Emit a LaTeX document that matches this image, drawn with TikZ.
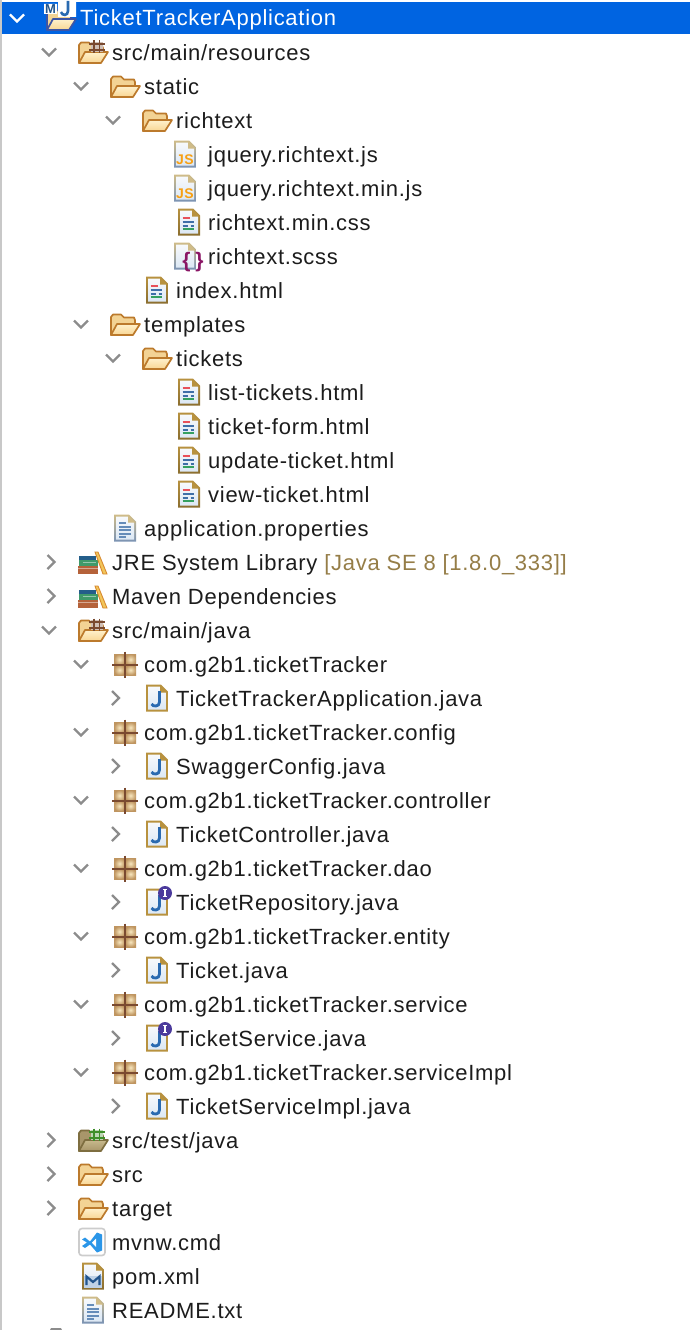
\documentclass[tikz,border=0pt]{standalone}
\usepackage{fontspec}
\setmainfont[LetterSpace=3.3]{Liberation Sans}
\definecolor{selblue}{HTML}{0064E1}
\definecolor{sidegray}{HTML}{C8C8C8}
\definecolor{chevgray}{HTML}{8C8C8C}
\definecolor{rowink}{HTML}{1C1C1C}
\definecolor{libnote}{HTML}{957D47}
\definecolor{folderedge}{HTML}{BC7A2C}
\definecolor{folderback}{HTML}{F3D394}
\definecolor{foldertop}{HTML}{FFF1CC}
\definecolor{folderbot}{HTML}{F8D694}
\definecolor{gridbrown}{HTML}{7A4A30}
\definecolor{testedge}{HTML}{7E6E40}
\definecolor{testback}{HTML}{A8966A}
\definecolor{testtop}{HTML}{C8B98C}
\definecolor{testbot}{HTML}{A8966A}
\definecolor{testgrid}{HTML}{3F8F2A}
\definecolor{projedge}{HTML}{3D55A5}
\definecolor{pkglight}{HTML}{F7E6BE}
\definecolor{pkgdark}{HTML}{BF9560}
\definecolor{pagetan}{HTML}{B8923F}
\definecolor{pagesteel}{HTML}{7A93B5}
\definecolor{pagesand}{HTML}{D0BC88}
\definecolor{pagetop}{HTML}{F7F9FC}
\definecolor{pagebot}{HTML}{DCE8F4}
\definecolor{javablue}{HTML}{2A6AB0}
\definecolor{badgepurple}{HTML}{4B3A9C}
\definecolor{jsorange}{HTML}{F7A014}
\definecolor{scsspurple}{HTML}{8A1565}
\definecolor{vsblue}{HTML}{2B96E8}
\definecolor{linered}{HTML}{E8505A}
\definecolor{lineblue}{HTML}{3F6FA8}
\definecolor{linegreen}{HTML}{35A060}
\definecolor{bookbrown}{HTML}{B5623A}
\definecolor{bookgreen}{HTML}{3F9A6A}
\definecolor{bookteal}{HTML}{245E8A}
\definecolor{rulerfill}{HTML}{F2C65A}
\definecolor{ruleredge}{HTML}{D88A30}
% page outline used by all the file icons
\newcommand{\filepage}[2]{
	\shade[top color=#1, bottom color=#2] (-11,-13.5) -- (4,-13.5) -- (11,-6.5) -- (11,13.5) -- (-11,13.5) -- cycle;
	\shade[top color=pagetop, bottom color=pagebot] (-9,-11.5) -- (3,-11.5) -- (9,-5.5) -- (9,11.5) -- (-9,11.5) -- cycle;
	\fill[#1] (3,-13) -- (10.5,-5.5) -- (3,-5.5) -- cycle;
}
\newcommand{\folderbody}[4]{
	\filldraw[#1, fill=#2, line width=1.7pt, line join=round] (-14,11) -- (-14,-7) -- (-12,-9.5) -- (-4,-9.5) -- (-1,-6.5) -- (9,-6.5) -- (10,-4) -- (10,0) -- cycle;
	\draw[#1, top color=#3, bottom color=#4, line width=1.7pt, line join=round] (-14,11) -- (-8,0) -- (15,0) -- (8,11) -- cycle;
}
\newcommand{\folderplus}[1]{
	\fill[#1!35!white] (-2,-10) rectangle (10,0);
	\draw[#1, line width=1.8pt] (1,-11.5) -- (1,1) (6.5,-11.5) -- (6.5,1) (-4,-8) -- (12,-8) (-4,-2) -- (12,-2);
}
\tikzset{
	rowtext/.style={anchor=base west, inner sep=0pt, yshift=-8pt, text=rowink, font=\fontsize{22}{26}\selectfont},
	chevdown/.pic={\draw[chevgray, line width=2.4pt] (-7,-3.5) -- (0,3.5) -- (7,-3.5);},
	chevwhite/.pic={\draw[white, line width=2.4pt] (-7,-3.5) -- (0,3.5) -- (7,-3.5);},
	chevright/.pic={\draw[chevgray, line width=2.4pt] (-3.5,-7) -- (3.5,0) -- (-3.5,7);},
	foldericon/.pic={\folderbody{folderedge}{folderback}{foldertop}{folderbot}},
	srcicon/.pic={\folderbody{folderedge}{folderback}{foldertop}{folderbot}\folderplus{gridbrown}},
	testicon/.pic={\folderbody{testedge}{testback}{testtop}{testbot}\folderplus{testgrid}},
	projicon/.pic={
		\folderbody{projedge}{folderback}{foldertop}{folderbot}
		\fill[white] (-17,-15) rectangle (-4,-5) (-3,-18) rectangle (15,-2);
		\node[inner sep=0pt, text=javablue!80!black, font=\bfseries\fontsize{13}{13}\selectfont] (projm) at (-10.5,-9.5) {M};
		\draw[javablue, line width=2.6pt] (7,-18) -- (7,-8) .. controls (7,-3) and (1,-3) .. (0,-7);
	},
	libicon/.pic={
		\fill[bookbrown] (-15,4) rectangle (5,12);
		\fill[bookbrown!55!white] (-15,6) rectangle (5,7);
		\fill[bookgreen] (-14,-2) rectangle (5,4);
		\fill[bookgreen!55!white] (-10,0) rectangle (3,1.2);
		\fill[bookteal] (-14,-6) rectangle (3,-2);
		\filldraw[ruleredge, fill=rulerfill, line width=0.9pt] (2,-10) -- (5,-10) -- (14,12) -- (10,12) -- cycle;
	},
	pkgicon/.pic={
		\shade[inner color=pkglight, outer color=pkgdark] (-11,-10) rectangle (0,1);
		\shade[inner color=pkglight, outer color=pkgdark] (0,-10) rectangle (11,1);
		\shade[inner color=pkglight, outer color=pkgdark] (-11,1) rectangle (0,11);
		\shade[inner color=pkglight, outer color=pkgdark] (0,1) rectangle (11,11);
		\draw[gridbrown, line width=1.3pt] (-13,1) -- (13,1) (0,-12.5) -- (0,13.5);
	},
	jicon/.pic={
		\filepage{pagetan}{pagetan}
		\draw[javablue, line width=2.8pt] (2.5,-7) -- (2.5,4) .. controls (2.5,9) and (-4,9) .. (-5.5,6);
	},
	jiicon/.pic={
		\filepage{pagetan}{pagetan}
		\draw[javablue, line width=2.8pt] (2.5,-7) -- (2.5,4) .. controls (2.5,9) and (-4,9) .. (-5.5,6);
		\fill[badgepurple] (8,-9) circle (7);
		\draw[white, line width=1.5pt] (8,-12.5) -- (8,-5.5) (6,-12.5) -- (10,-12.5) (6,-5.5) -- (10,-5.5);
	},
	jsicon/.pic={
		\filepage{pagesand}{pagesteel}
		\node[inner sep=0pt, text=jsorange, font=\bfseries\fontsize{14}{14}\selectfont] (jslabel) at (0,6) {JS};
	},
	htmlicon/.pic={
		\filepage{pagetan}{pagetan!75!black}
		\draw[linered, line width=2pt] (-6.3,-4.3) -- (1,-4.3);
		\draw[lineblue, line width=2pt] (-6.3,-0.4) -- (5,-0.4) (-6.3,3.5) -- (-0.6,3.5) (1.7,3.5) -- (5,3.5);
		\draw[linegreen, line width=2pt] (-6.3,7.4) -- (5,7.4);
	},
	scssicon/.pic={
		\filepage{pagesand}{pagesteel}
		\node[inner sep=0pt, text=scsspurple, font=\bfseries\fontsize{21}{21}\selectfont] (scsslabel) at (8,6.5) {\{\kern5pt\}};
	},
	propicon/.pic={
		\filepage{pagesand}{pagesteel}
		\draw[lineblue!80!white, line width=2pt] (-6,-5) -- (1,-5) (-6,-1.5) -- (6,-1.5) (-6,2) -- (6,2) (-6,5.5) -- (6,5.5) (-6,9) -- (1,9);
	},
	pomicon/.pic={
		\filepage{pagetan}{pagetan!75!black}
		\fill[javablue!30!white] (-9,0) rectangle (9,11.5);
		\draw[javablue!80!black, line width=2.2pt] (-6.5,9) -- (-6.5,0.5) -- (0,6) -- (6.5,0.5) -- (6.5,9);
	},
	vsicon/.pic={
		\draw[black!20, fill=white, line width=1.6pt, rounded corners=3pt] (-13,-13.5) rectangle (13,13.5);
		\fill[vsblue] (-10,-2.5) -- (-7,-4.5) -- (-2,-0.5) -- (5,-9.5) -- (10,-7.5) -- (10,8.5) -- (5,10.5) -- (-2,2.5) -- (-7,6) -- (-10,4) -- (-5,0.5) -- cycle;
		\fill[white] (4,-3.5) -- (4,5) -- (0,0.7) -- cycle;
	},
}
\begin{document}
\begin{tikzpicture}[x=1pt, y=-1pt, line join=miter]
	\useasboundingbox (0,0) rectangle (690,1330);
	\fill[white] (0,0) rectangle (690,1330);
	\fill[sidegray] (0,0) rectangle (2,1330);
	\fill[selblue] (2,2) rectangle (690,34);
	\fill[black!45] (50,1330) -- (51,1328) -- (61,1328) -- (62,1330) -- cycle;
	% project root
	\pic at (17,18) {chevwhite};
	\pic at (61,19) {projicon};
	\node[rowtext, text=white] (root) at (80,18) {TicketTrackerApplication};
	% resources
	\pic at (49,52) {chevdown};
	\pic at (93,52) {srcicon};
	\node[rowtext] (resources) at (112,52) {src/main/resources};
	\pic at (81,86) {chevdown};
	\pic at (125,86) {foldericon};
	\node[rowtext] (static) at (144,86) {static};
	\pic at (113,120) {chevdown};
	\pic at (157,120) {foldericon};
	\node[rowtext] (richtext) at (176,120) {richtext};
	\pic at (185,154) {jsicon};
	\node[rowtext] (jqueryjs) at (208,154) {jquery.richtext.js};
	\pic at (185,188) {jsicon};
	\node[rowtext] (jqueryminjs) at (208,188) {jquery.richtext.min.js};
	\pic at (189,222) {htmlicon};
	\node[rowtext] (mincss) at (208,222) {richtext.min.css};
	\pic at (185,256) {scssicon};
	\node[rowtext] (scss) at (208,256) {richtext.scss};
	\pic at (157,290) {htmlicon};
	\node[rowtext] (index) at (176,290) {index.html};
	\pic at (81,324) {chevdown};
	\pic at (125,324) {foldericon};
	\node[rowtext] (templates) at (144,324) {templates};
	\pic at (113,358) {chevdown};
	\pic at (157,358) {foldericon};
	\node[rowtext] (tickets) at (176,358) {tickets};
	\pic at (189,392) {htmlicon};
	\node[rowtext] (listtickets) at (208,392) {list-tickets.html};
	\pic at (189,426) {htmlicon};
	\node[rowtext] (ticketform) at (208,426) {ticket-form.html};
	\pic at (189,460) {htmlicon};
	\node[rowtext] (updateticket) at (208,460) {update-ticket.html};
	\pic at (189,494) {htmlicon};
	\node[rowtext] (viewticket) at (208,494) {view-ticket.html};
	\pic at (125,528) {propicon};
	\node[rowtext] (appprops) at (144,528) {application.properties};
	% libraries
	\pic at (51,562) {chevright};
	\pic at (93,562) {libicon};
	\node[rowtext] (jrelib) at (112,562) {JRE System Library \textcolor{libnote}{[Java SE 8 [1.8.0\_333]]}};
	\pic at (51,596) {chevright};
	\pic at (93,596) {libicon};
	\node[rowtext] (mavenlib) at (112,596) {Maven Dependencies};
	% java sources
	\pic at (49,630) {chevdown};
	\pic at (93,630) {srcicon};
	\node[rowtext] (srcjava) at (112,630) {src/main/java};
	\pic at (81,664) {chevdown};
	\pic at (125,664) {pkgicon};
	\node[rowtext] (pkgroot) at (144,664) {com.g2b1.ticketTracker};
	\pic at (115.5,698) {chevright};
	\pic at (157,698) {jicon};
	\node[rowtext] (appjava) at (176,698) {TicketTrackerApplication.java};
	\pic at (81,732) {chevdown};
	\pic at (125,732) {pkgicon};
	\node[rowtext] (pkgconfig) at (144,732) {com.g2b1.ticketTracker.config};
	\pic at (115.5,766) {chevright};
	\pic at (157,766) {jicon};
	\node[rowtext] (swaggerjava) at (176,766) {SwaggerConfig.java};
	\pic at (81,800) {chevdown};
	\pic at (125,800) {pkgicon};
	\node[rowtext] (pkgcontroller) at (144,800) {com.g2b1.ticketTracker.controller};
	\pic at (115.5,834) {chevright};
	\pic at (157,834) {jicon};
	\node[rowtext] (controllerjava) at (176,834) {TicketController.java};
	\pic at (81,868) {chevdown};
	\pic at (125,868) {pkgicon};
	\node[rowtext] (pkgdao) at (144,868) {com.g2b1.ticketTracker.dao};
	\pic at (115.5,902) {chevright};
	\pic at (157,902) {jiicon};
	\node[rowtext] (repojava) at (176,902) {TicketRepository.java};
	\pic at (81,936) {chevdown};
	\pic at (125,936) {pkgicon};
	\node[rowtext] (pkgentity) at (144,936) {com.g2b1.ticketTracker.entity};
	\pic at (115.5,970) {chevright};
	\pic at (157,970) {jicon};
	\node[rowtext] (ticketjava) at (176,970) {Ticket.java};
	\pic at (81,1004) {chevdown};
	\pic at (125,1004) {pkgicon};
	\node[rowtext] (pkgservice) at (144,1004) {com.g2b1.ticketTracker.service};
	\pic at (115.5,1038) {chevright};
	\pic at (157,1038) {jiicon};
	\node[rowtext] (servicejava) at (176,1038) {TicketService.java};
	\pic at (81,1072) {chevdown};
	\pic at (125,1072) {pkgicon};
	\node[rowtext] (pkgimpl) at (144,1072) {com.g2b1.ticketTracker.serviceImpl};
	\pic at (115.5,1106) {chevright};
	\pic at (157,1106) {jicon};
	\node[rowtext] (impljava) at (176,1106) {TicketServiceImpl.java};
	% rest of the project
	\pic at (51,1140) {chevright};
	\pic at (93,1140) {testicon};
	\node[rowtext] (srctest) at (112,1140) {src/test/java};
	\pic at (51,1174) {chevright};
	\pic at (93,1174) {foldericon};
	\node[rowtext] (srcdir) at (112,1174) {src};
	\pic at (51,1208) {chevright};
	\pic at (93,1208) {foldericon};
	\node[rowtext] (target) at (112,1208) {target};
	\pic at (92,1242) {vsicon};
	\node[rowtext] (mvnw) at (112,1242) {mvnw.cmd};
	\pic at (93,1276) {pomicon};
	\node[rowtext] (pom) at (112,1276) {pom.xml};
	\pic at (93,1310) {propicon};
	\node[rowtext] (readme) at (112,1310) {README.txt};
\end{tikzpicture}
\end{document}
